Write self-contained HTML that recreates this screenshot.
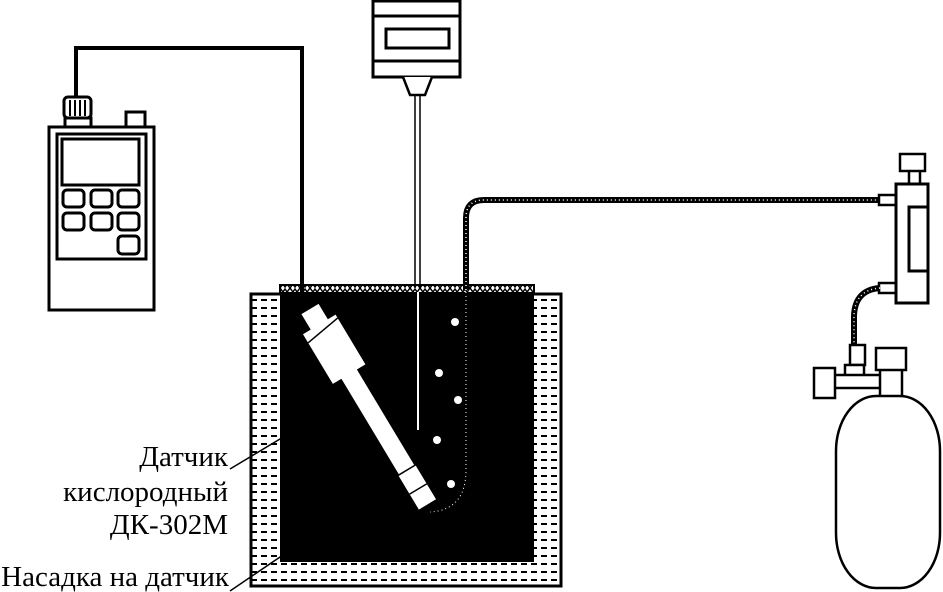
<!DOCTYPE html>
<html><head><meta charset="utf-8"><style>
html,body{margin:0;padding:0;background:#fff;}
svg{display:block}
text{font-family:"Liberation Serif",serif;font-size:29px;fill:#000}
</style></head><body>
<svg width="943" height="592" viewBox="0 0 943 592" xmlns="http://www.w3.org/2000/svg">
<defs>
<pattern id="dash" width="10" height="8" patternUnits="userSpaceOnUse">
<rect width="10" height="8" fill="#fff"/>
<line x1="1" y1="4" x2="7" y2="4" stroke="#000" stroke-width="2"/>
</pattern>
<pattern id="hatch" width="10" height="8" patternUnits="userSpaceOnUse">
<rect width="10" height="8" fill="#fff"/>
<path d="M0 0 L5 7 L10 0" fill="none" stroke="#000" stroke-width="1.5"/>
<path d="M0 8 L5 1 L10 8" fill="none" stroke="#000" stroke-width="1.5"/>
</pattern>
</defs>
<rect x="251" y="294" width="310" height="292" fill="url(#dash)" stroke="#000" stroke-width="3"/>
<rect x="280" y="285" width="254" height="8" fill="url(#hatch)" stroke="#000" stroke-width="2"/>
<rect x="280" y="292" width="254" height="270" fill="#000"/>
<g fill="#fff"><circle cx="455" cy="322" r="4"/><circle cx="439" cy="373" r="4"/><circle cx="458" cy="400" r="4"/><circle cx="437" cy="440" r="4"/><circle cx="451" cy="484" r="4"/></g>
<path d="M466 292 L466 470 Q466 510 430 512" fill="none" stroke="#fff" stroke-width="1" stroke-dasharray="1 3"/>
<line x1="418" y1="292" x2="418" y2="430" stroke="#fff" stroke-width="2"/>
<g transform="translate(310,309) rotate(-31)" fill="#fff">
<rect x="-10" y="0" width="20" height="20"/>
<rect x="-19" y="18" width="38" height="58"/>
<line x1="-19" y1="28" x2="19" y2="22" stroke="#000" stroke-width="1.5"/>
<rect x="-9" y="74" width="18" height="116"/>
<rect x="-10" y="188" width="20" height="40"/>
<line x1="-10" y1="188" x2="10" y2="188" stroke="#000" stroke-width="1.5"/>
<line x1="-10" y1="210" x2="10" y2="210" stroke="#000" stroke-width="1.5"/>
</g>
<polyline points="76,97 76,48 302,48 302,292" fill="none" stroke="#000" stroke-width="4"/>
<rect x="49" y="127" width="105" height="183" fill="#fff" stroke="#000" stroke-width="3"/>
<rect x="57" y="134" width="89" height="125" fill="#fff" stroke="#000" stroke-width="3"/>
<rect x="62" y="139" width="77" height="46" fill="#fff" stroke="#000" stroke-width="3"/>
<g fill="#fff" stroke="#000" stroke-width="3">
<rect x="63" y="190" width="21" height="17" rx="4"/><rect x="91" y="190" width="21" height="17" rx="4"/><rect x="118" y="190" width="21" height="17" rx="4"/>
<rect x="63" y="213" width="21" height="17" rx="4"/><rect x="91" y="213" width="21" height="17" rx="4"/><rect x="118" y="213" width="21" height="17" rx="4"/>
<rect x="118" y="236" width="21" height="18" rx="4"/>
<rect x="126" y="112" width="19" height="15"/>
<rect x="64" y="97" width="27" height="21" rx="4"/>
<rect x="65" y="118" width="26" height="9"/>
</g>
<g stroke="#000" stroke-width="2"><line x1="70" y1="100" x2="70" y2="116"/><line x1="75" y1="100" x2="75" y2="116"/><line x1="80" y1="100" x2="80" y2="116"/><line x1="85" y1="100" x2="85" y2="116"/></g>
<rect x="373" y="1" width="87" height="76" fill="#fff" stroke="#000" stroke-width="3"/>
<line x1="373" y1="16" x2="460" y2="16" stroke="#000" stroke-width="3"/>
<line x1="373" y1="61" x2="460" y2="61" stroke="#000" stroke-width="3"/>
<rect x="386" y="29" width="63" height="19" fill="#fff" stroke="#000" stroke-width="3"/>
<path d="M403 77 L410 95 L425 95 L432 77" fill="#fff" stroke="#000" stroke-width="2.5"/>
<line x1="415" y1="95" x2="415" y2="288" stroke="#000" stroke-width="1.5"/>
<line x1="420" y1="95" x2="420" y2="288" stroke="#000" stroke-width="1.5"/>
<path d="M466 290 L466 218 Q466 200 484 200 L880 200" fill="none" stroke="#000" stroke-width="6"/>
<path d="M466 290 L466 218 Q466 200 484 200 L880 200" fill="none" stroke="#fff" stroke-width="1.5" stroke-dasharray="1 3"/>
<rect x="879" y="195" width="17" height="10" fill="#fff" stroke="#000" stroke-width="2.5"/>
<rect x="879" y="283" width="17" height="10" fill="#fff" stroke="#000" stroke-width="2.5"/>
<rect x="909" y="170" width="11" height="14" fill="#fff" stroke="#000" stroke-width="2.5"/>
<rect x="900" y="154" width="25" height="17" fill="#fff" stroke="#000" stroke-width="2.5"/>
<rect x="896" y="184" width="32" height="119" fill="#fff" stroke="#000" stroke-width="3"/>
<rect x="909" y="207" width="19" height="64" fill="#fff" stroke="#000" stroke-width="3"/>
<path d="M880 288 Q853 290 854 320 L854 346" fill="none" stroke="#000" stroke-width="6"/>
<path d="M880 288 Q853 290 854 320 L854 346" fill="none" stroke="#fff" stroke-width="1.5" stroke-dasharray="1 3"/>
<rect x="850" y="345" width="15" height="20" fill="#fff" stroke="#000" stroke-width="2.5"/>
<rect x="845" y="365" width="19" height="11" fill="#fff" stroke="#000" stroke-width="2.5"/>
<rect x="834" y="375" width="50" height="13" fill="#fff" stroke="#000" stroke-width="2.5"/>
<rect x="814" y="368" width="21" height="30" fill="#fff" stroke="#000" stroke-width="2.5"/>
<rect x="880" y="369" width="22" height="28" fill="#fff" stroke="#000" stroke-width="2.5"/>
<rect x="876" y="348" width="30" height="22" fill="#fff" stroke="#000" stroke-width="2.5"/>
<rect x="836" y="396" width="104" height="192" rx="40" ry="55" fill="#fff" stroke="#000" stroke-width="2.5"/>
<text x="228" y="466" text-anchor="end">Датчик</text>
<text x="228" y="501" text-anchor="end">кислородный</text>
<text x="228" y="534" text-anchor="end">ДК-302М</text>
<text x="229" y="586" text-anchor="end">Насадка на датчик</text>
<line x1="230" y1="469" x2="295" y2="430" stroke="#000" stroke-width="1.5"/>
<line x1="230" y1="591" x2="283" y2="555" stroke="#000" stroke-width="1.5"/>
</svg>
</body></html>
